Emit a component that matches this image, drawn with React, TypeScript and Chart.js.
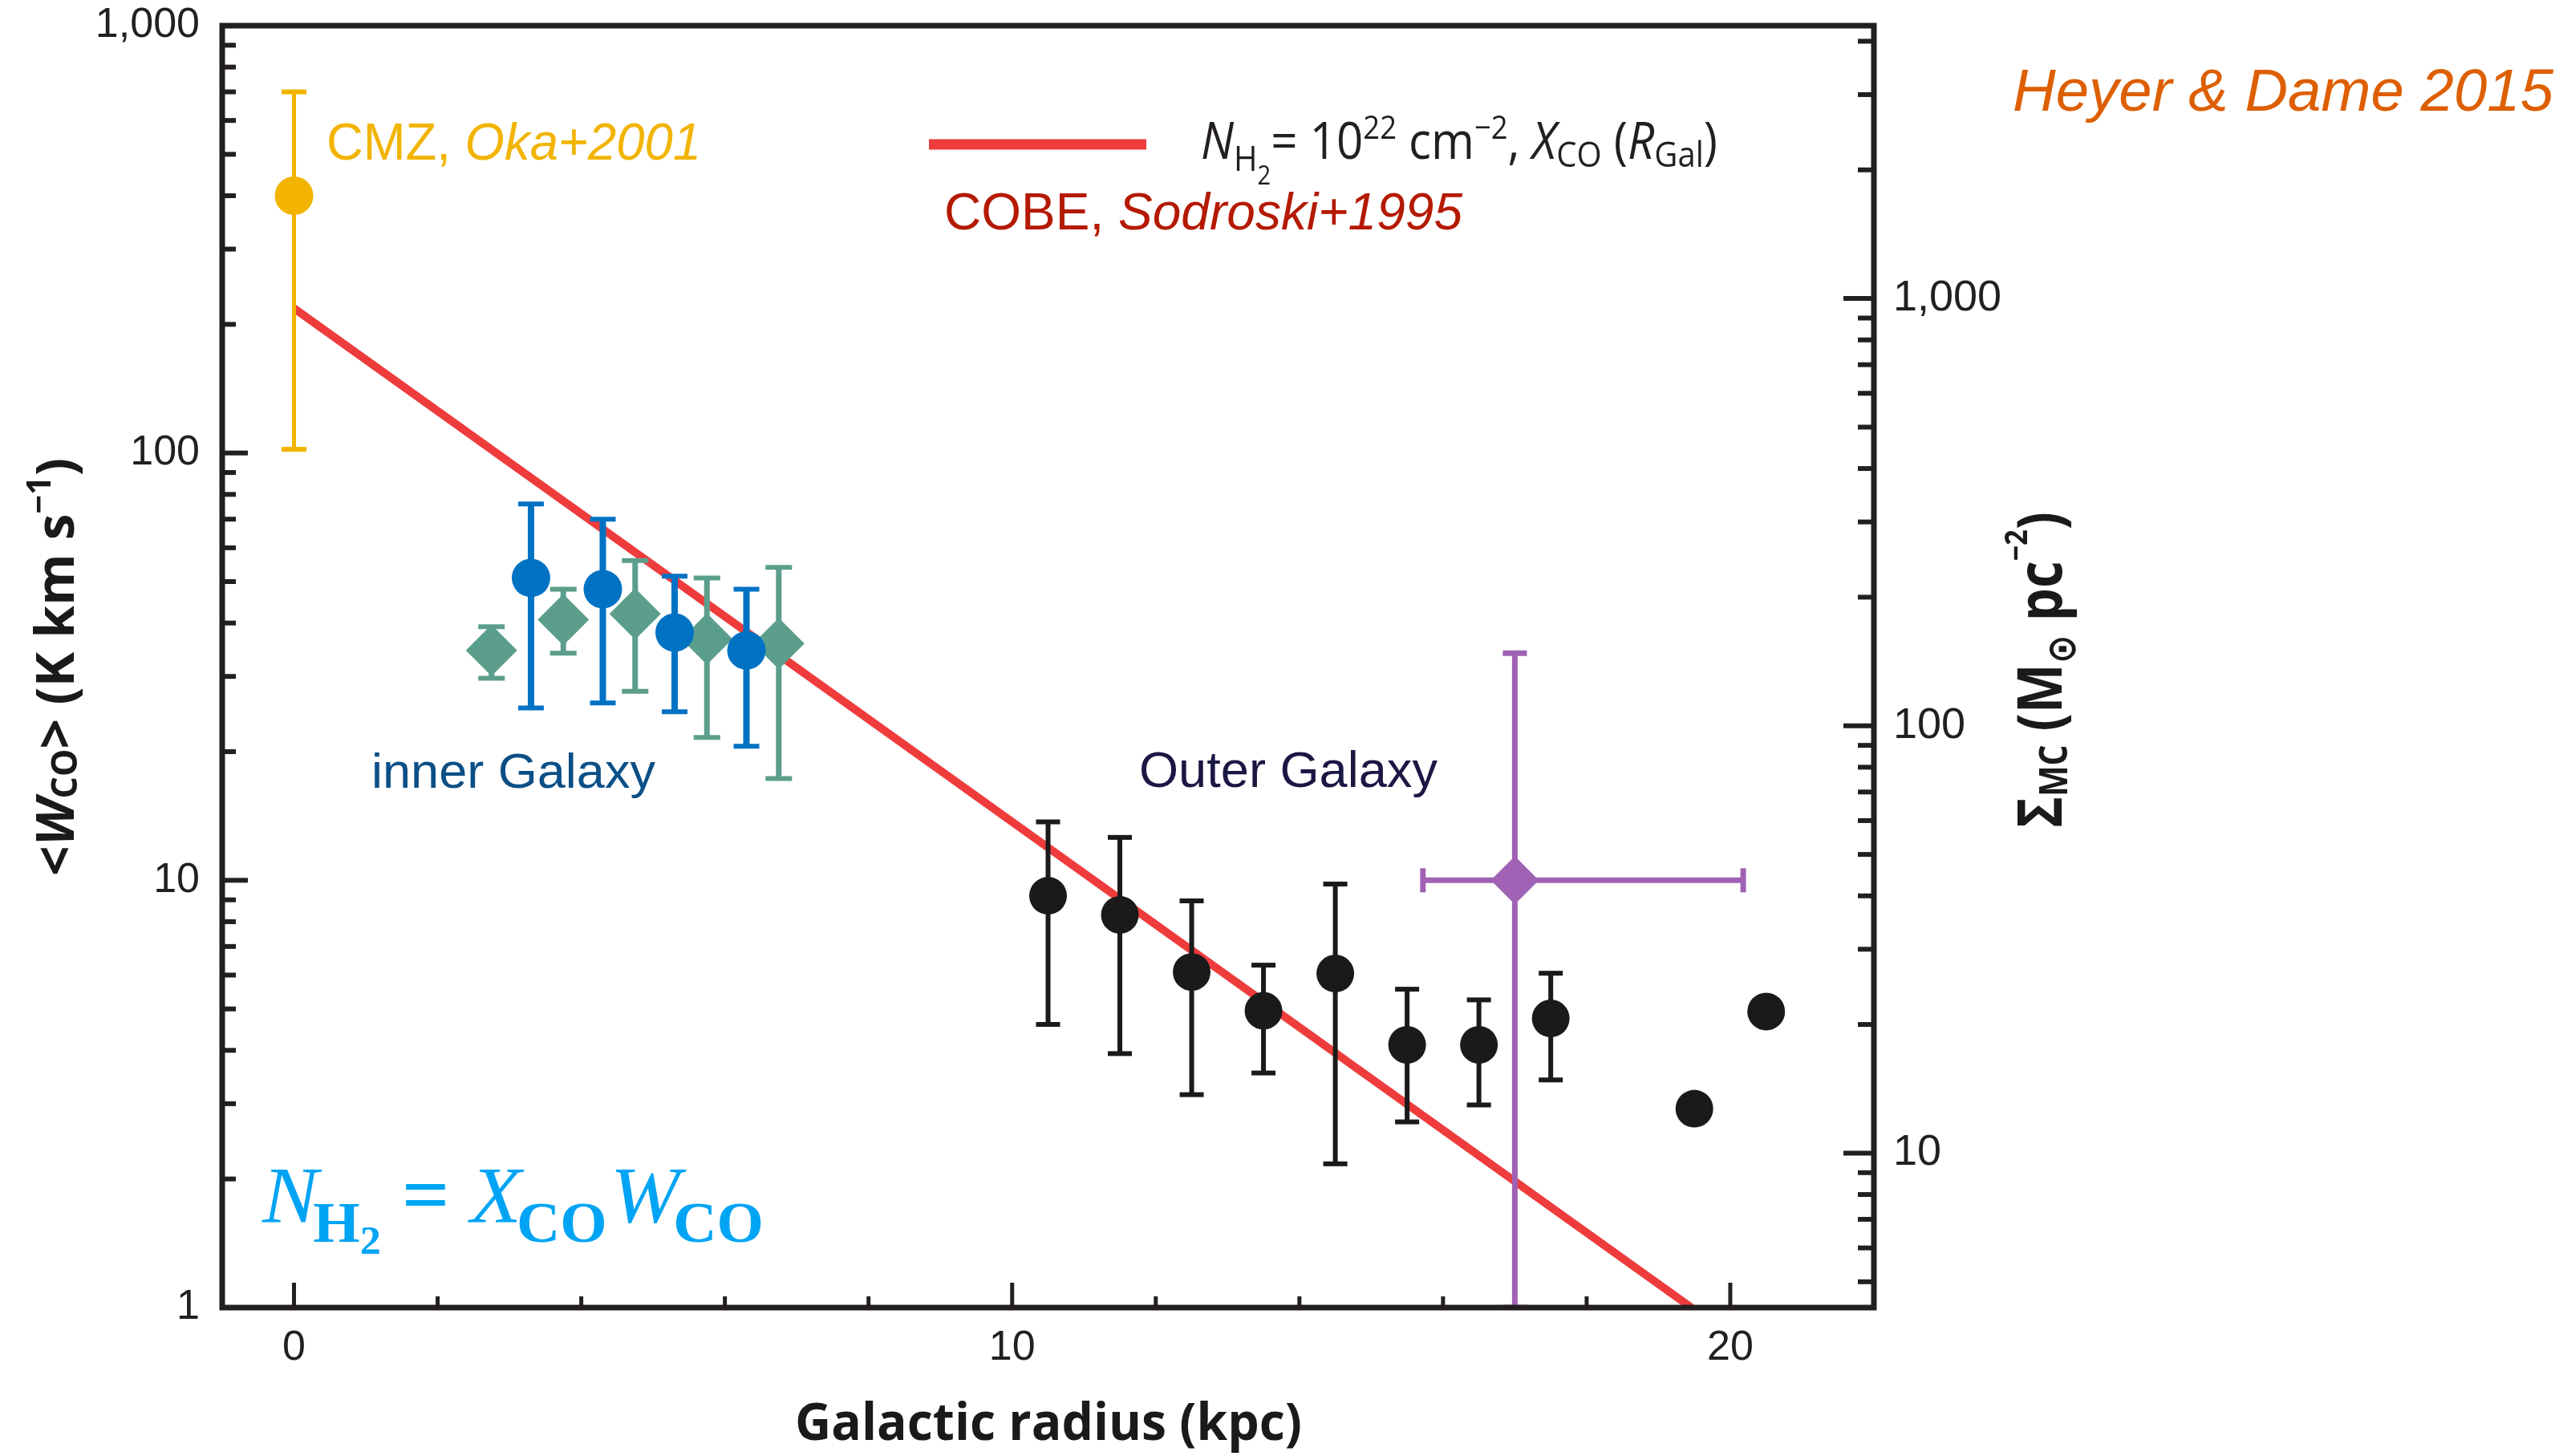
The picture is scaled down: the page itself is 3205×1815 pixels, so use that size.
import React, { useEffect, useRef } from 'react';
import { Chart, registerables } from 'chart.js';

Chart.register(...registerables);

const W = 3205;
const H = 1815;

// ---------- data ----------
const xTickValues = [0, 10, 20];
const xMinorTickValues = [2, 4, 6, 8, 12, 14, 16, 18];
const yTickValues = [1, 10, 100, 1000];
const y2TickValues = [10, 100, 1000];
const y2MinorTickValues = [5, 6, 7, 8, 9, 20, 30, 40, 50, 60, 70, 80, 90, 200, 300, 400, 500, 600, 700, 800, 900, 2000, 3000, 4000];

// CMZ (Oka+2001)
const cmzR = [0];
const cmzW = [400];
const cmzLo = [102];
const cmzHi = [700];

// inner Galaxy, blue circles
const blueR = [3.3, 4.3, 5.3, 6.3];
const blueW = [51, 48, 38, 34.5];
const blueLo = [25.3, 26, 24.8, 20.6];
const blueHi = [76, 70, 51.5, 48];

// inner Galaxy, teal diamonds
const tealR = [2.75, 3.75, 4.75, 5.75, 6.75];
const tealW = [34.5, 40.7, 42, 36.7, 35.8];
const tealLo = [29.7, 34, 27.7, 21.6, 17.3];
const tealHi = [39.2, 48, 56, 51, 54];

// outer Galaxy, black circles
const outerR = [10.5, 11.5, 12.5, 13.5, 14.5, 15.5, 16.5, 17.5, 19.5, 20.5];
const outerW = [9.2, 8.3, 6.1, 4.95, 6.05, 4.12, 4.12, 4.75, 2.92, 4.93];
const outerLo: (number | null)[] = [4.6, 3.93, 3.15, 3.54, 2.17, 2.72, 2.98, 3.41, null, null];
const outerHi: (number | null)[] = [13.7, 12.6, 8.95, 6.33, 9.8, 5.56, 5.25, 6.06, null, null];

// purple point
const purpleR = [17.0];
const purpleW = [10];
const purpleLo = [1];
const purpleHi = [34];
const purpleRLo = [15.72];
const purpleRHi = [20.18];

// COBE model line
const modelR = [0, 19.46];
const modelW = [218, 1];

// ---------- styles ----------
const C_YELLOW = '#F2B400';
const C_BLUE = '#0072C4';
const C_TEAL = '#5B9E8B';
const C_BLACK = '#1A1A1A';
const C_PURPLE = '#A062B4';
const C_RED = '#EE3C3C';
const C_AXIS = '#231F20';

const HV = '"Liberation Sans", Arial, sans-serif';
const MY = '"Open Sans", "Liberation Sans", sans-serif';
const TM = '"Liberation Serif", "Times New Roman", serif';

type Err = {
  r: number[];
  lo: (number | null)[];
  hi: (number | null)[];
  rlo?: number[];
  rhi?: number[];
  color: string;
  lw: number;
  capW: number;
  capT: number;
};

const ERR: Record<string, Err> = {
  cmz: { r: cmzR, lo: cmzLo, hi: cmzHi, color: C_YELLOW, lw: 5, capW: 31, capT: 6 },
  blue: { r: blueR, lo: blueLo, hi: blueHi, color: C_BLUE, lw: 8, capW: 32, capT: 6 },
  teal: { r: tealR, lo: tealLo, hi: tealHi, color: C_TEAL, lw: 7, capW: 33, capT: 6 },
  outer: { r: outerR, lo: outerLo, hi: outerHi, color: C_BLACK, lw: 6, capW: 30, capT: 6 },
  purple: { r: purpleR, lo: purpleLo, hi: purpleHi, rlo: purpleRLo, rhi: purpleRHi, color: C_PURPLE, lw: 7, capW: 30, capT: 7 },
};

type Seg = { t: string; f: string; dy?: number; dx?: number };

function richText(ctx: CanvasRenderingContext2D, segs: Seg[], x: number, y: number, color: string, width?: number, rot = 0) {
  ctx.save();
  let total = 0;
  for (const s of segs) {
    ctx.font = s.f;
    total += ctx.measureText(s.t).width + (s.dx || 0);
  }
  const sx = width ? width / total : 1;
  ctx.translate(x, y);
  if (rot) ctx.rotate(rot);
  ctx.scale(sx, 1);
  ctx.fillStyle = color;
  ctx.textBaseline = 'alphabetic';
  ctx.textAlign = 'left';
  let cx = 0;
  for (const s of segs) {
    ctx.font = s.f;
    cx += s.dx || 0;
    ctx.fillText(s.t, cx, s.dy || 0);
    cx += ctx.measureText(s.t).width;
  }
  ctx.restore();
}

function seg(ctx: CanvasRenderingContext2D, x1: number, y1: number, x2: number, y2: number) {
  ctx.beginPath();
  ctx.moveTo(x1, y1);
  ctx.lineTo(x2, y2);
  ctx.stroke();
}

const errPlugin = {
  id: 'errbars',
  beforeDatasetDraw(chart: any, args: any) {
    const ds = chart.data.datasets[args.index];
    const eb = ERR[ds.label];
    if (!eb) return;
    const { ctx, chartArea: ca, scales } = chart;
    const xs = scales.x;
    const ys = scales.y;
    ctx.save();
    ctx.beginPath();
    ctx.rect(ca.left, ca.top, ca.right - ca.left, ca.bottom - ca.top);
    ctx.clip();
    ctx.strokeStyle = eb.color;
    ctx.lineCap = 'butt';
    for (let i = 0; i < eb.r.length; i++) {
      const px = xs.getPixelForValue(eb.r[i]);
      const lo = eb.lo[i];
      const hi = eb.hi[i];
      if (lo != null && hi != null) {
        const p1 = ys.getPixelForValue(lo);
        const p2 = ys.getPixelForValue(hi);
        ctx.lineWidth = eb.lw;
        seg(ctx, px, p1, px, p2);
        ctx.lineWidth = eb.capT;
        seg(ctx, px - eb.capW / 2, p1, px + eb.capW / 2, p1);
        seg(ctx, px - eb.capW / 2, p2, px + eb.capW / 2, p2);
      }
      if (eb.rlo && eb.rhi) {
        const py = ys.getPixelForValue(ds.data[i].y);
        const q1 = xs.getPixelForValue(eb.rlo[i]);
        const q2 = xs.getPixelForValue(eb.rhi[i]);
        ctx.lineWidth = eb.lw;
        seg(ctx, q1, py, q2, py);
        ctx.lineWidth = eb.capT;
        seg(ctx, q1, py - eb.capW / 2, q1, py + eb.capW / 2);
        seg(ctx, q2, py - eb.capW / 2, q2, py + eb.capW / 2);
      }
    }
    ctx.restore();
  },
};

const decorPlugin = {
  id: 'decor',
  beforeDraw(chart: any) {
    const ctx = chart.ctx;
    ctx.save();
    ctx.fillStyle = '#ffffff';
    ctx.fillRect(0, 0, chart.width, chart.height);
    ctx.restore();
  },
  afterDraw(chart: any) {
    const { ctx, chartArea: ca, scales } = chart;
    const xs = scales.x;
    const ys = scales.y;
    const y2 = scales.y2;
    ctx.save();
    // ticks (inward)
    ctx.strokeStyle = C_AXIS;
    ctx.lineCap = 'butt';
    ctx.lineWidth = 6;
    for (const v of yTickValues) {
      const p = ys.getPixelForValue(v);
      if (v === 1 || v === 1000) continue;
      seg(ctx, ca.left, p, ca.left + 32, p);
    }
    for (let d = 1; d < 1000; d *= 10) {
      for (let m = 2; m <= 9; m++) {
        const p = ys.getPixelForValue(d * m);
        seg(ctx, ca.left, p, ca.left + 17, p);
      }
    }
    for (const v of y2TickValues) {
      const p = y2.getPixelForValue(v);
      seg(ctx, ca.right, p, ca.right - 38, p);
    }
    for (const v of y2MinorTickValues) {
      const p = y2.getPixelForValue(v);
      seg(ctx, ca.right, p, ca.right - 20, p);
    }
    ctx.lineWidth = 5;
    for (const v of xTickValues) {
      const p = xs.getPixelForValue(v);
      seg(ctx, p, ca.bottom, p, ca.bottom - 31);
    }
    for (const v of xMinorTickValues) {
      const p = xs.getPixelForValue(v);
      seg(ctx, p, ca.bottom, p, ca.bottom - 14);
    }
    // frame
    ctx.lineWidth = 7;
    ctx.lineJoin = 'miter';
    ctx.strokeRect(ca.left, ca.top, ca.right - ca.left, ca.bottom - ca.top);

    // legend line
    ctx.strokeStyle = C_RED;
    ctx.lineWidth = 13;
    seg(ctx, 1158, 180, 1429, 180);
    ctx.restore();

    // legend formula
    richText(ctx, [
      { t: 'N', f: `italic 64px ${MY}` },
      { t: 'H', f: `44px ${MY}`, dy: 15 },
      { t: '2', f: `32px ${MY}`, dy: 32 },
      { t: '= 10', f: `64px ${MY}` },
      { t: '22', f: `40px ${MY}`, dy: -25 },
      { t: ' cm', f: `64px ${MY}` },
      { t: '\u22122', f: `40px ${MY}`, dy: -25 },
      { t: ', ', f: `64px ${MY}` },
      { t: 'X', f: `italic 64px ${MY}` },
      { t: 'CO', f: `44px ${MY}`, dy: 10 },
      { t: ' (', f: `64px ${MY}` },
      { t: 'R', f: `italic 64px ${MY}` },
      { t: 'Gal', f: `44px ${MY}`, dy: 10 },
      { t: ')', f: `64px ${MY}` },
    ], 1497, 198, C_AXIS, 644);

    richText(ctx, [
      { t: 'COBE, ', f: `64px ${HV}` },
      { t: 'Sodroski+1995', f: `italic 64px ${HV}` },
    ], 1177, 286, '#B41A00', 646);

    richText(ctx, [
      { t: 'CMZ, ', f: `64px ${HV}` },
      { t: 'Oka+2001', f: `italic 64px ${HV}` },
    ], 407, 199, C_YELLOW, 467);

    richText(ctx, [{ t: 'Heyer & Dame 2015', f: `italic 74px ${HV}` }], 2509, 138, '#DD5F00', 674);
    richText(ctx, [{ t: 'inner Galaxy', f: `62px ${HV}` }], 463, 982, '#0B4F86', 354);
    richText(ctx, [{ t: 'Outer Galaxy', f: `63px ${HV}` }], 1420, 981, '#1B1744', 372);

    // N_H2 = X_CO W_CO
    richText(ctx, [
      { t: 'N', f: `italic 100px ${TM}` },
      { t: 'H', f: `bold 72px ${TM}`, dy: 25, dx: -6 },
      { t: '2', f: `bold 50px ${TM}`, dy: 40 },
      { t: ' = ', f: `bold 100px ${TM}` },
      { t: 'X', f: `italic 100px ${TM}` },
      { t: 'CO', f: `bold 72px ${TM}`, dy: 25, dx: -6 },
      { t: 'W', f: `italic 100px ${TM}`, dx: 4 },
      { t: 'CO', f: `bold 72px ${TM}`, dy: 25, dx: -8 },
    ], 327, 1523, '#00A4F4', 625);

    // axis titles
    richText(ctx, [
      { t: '<', f: `bold 67px ${MY}` },
      { t: 'W', f: `italic bold 67px ${MY}` },
      { t: 'CO', f: `bold 44px ${MY}`, dy: 4 },
      { t: '>', f: `bold 67px ${MY}` },
      { t: ' (K km s', f: `bold 67px ${MY}` },
      { t: '\u22121', f: `bold 42px ${MY}`, dy: -29 },
      { t: ')', f: `bold 67px ${MY}` },
    ], 92, 1092, C_BLACK, 521, -Math.PI / 2);

    richText(ctx, [
      { t: '\u03A3', f: `bold 77px ${MY}` },
      { t: 'MC', f: `bold 48px ${MY}`, dy: 7 },
      { t: ' (M', f: `bold 77px ${MY}` },
      { t: '\u2299', f: `bold 50px "DejaVu Sans", ${MY}`, dy: 17 },
      { t: ' pc', f: `bold 77px ${MY}` },
      { t: '\u22122', f: `bold 40px ${MY}`, dy: -43 },
      { t: ')', f: `bold 77px ${MY}` },
    ], 2570, 1032, C_BLACK, 394, -Math.PI / 2);

    richText(ctx, [{ t: 'Galactic radius (kpc)', f: `bold 64px ${MY}` }], 991, 1795, C_BLACK, 632);
  },
};

function fmt(v: number) {
  return v >= 1000 ? v.toLocaleString('en-US') : String(v);
}

export default function App() {
  const ref = useRef<HTMLCanvasElement | null>(null);

  useEffect(() => {
    document.body.style.margin = '0';
    const canvas = ref.current;
    if (!canvas) return;
    const pts = (xs: number[], ys: number[]) => xs.map((x, i) => ({ x, y: ys[i] }));
    const chart = new Chart(canvas, {
      type: 'scatter',
      data: {
        datasets: [
          { label: 'cmz', data: pts(cmzR, cmzW), pointStyle: 'circle', pointRadius: 24, backgroundColor: C_YELLOW, borderWidth: 0 },
          { label: 'blue', data: pts(blueR, blueW), pointStyle: 'circle', pointRadius: 24, backgroundColor: C_BLUE, borderWidth: 0 },
          { label: 'teal', data: pts(tealR, tealW), pointStyle: 'rectRot', pointRadius: 32, backgroundColor: C_TEAL, borderWidth: 0 },
          { label: 'outer', data: pts(outerR, outerW), pointStyle: 'circle', pointRadius: 23.5, backgroundColor: C_BLACK, borderWidth: 0 },
          { label: 'purple', data: pts(purpleR, purpleW), pointStyle: 'rectRot', pointRadius: 30, backgroundColor: C_PURPLE, borderWidth: 0 },
          { label: 'model', data: pts(modelR, modelW), showLine: true, pointRadius: 0, borderColor: C_RED, borderWidth: 10, backgroundColor: C_RED },
        ] as any,
      },
      options: {
        responsive: false,
        animation: false,
        devicePixelRatio: 1,
        layout: { padding: { top: 32, left: 0, right: 0, bottom: 0 } },
        plugins: { legend: { display: false }, tooltip: { enabled: false }, title: { display: false } },
        events: [],
        scales: {
          x: {
            type: 'linear',
            min: -1,
            max: 22,
            afterFit: (s: any) => { s.height = H - 1630; s.paddingLeft = 0; s.paddingRight = 0; },
            afterBuildTicks: (s: any) => { s.ticks = xTickValues.map((v) => ({ value: v })); },
            grid: { display: false, drawTicks: false },
            border: { display: false },
            ticks: { autoSkip: false, maxRotation: 0, padding: 19, color: C_AXIS, font: { family: HV, size: 52 }, callback: (v: any) => String(v) },
          },
          y: {
            type: 'logarithmic',
            position: 'left',
            min: 1,
            max: 1000,
            afterFit: (s: any) => { s.width = 277; s.paddingTop = 0; s.paddingBottom = 0; },
            afterBuildTicks: (s: any) => { s.ticks = yTickValues.map((v) => ({ value: v })); },
            grid: { display: false, drawTicks: false },
            border: { display: false },
            ticks: { autoSkip: false, padding: 28, color: C_AXIS, font: { family: HV, size: 52 }, callback: (v: any) => fmt(Number(v)) },
          },
          y2: {
            type: 'logarithmic',
            position: 'right',
            min: 4.35,
            max: 4350,
            afterFit: (s: any) => { s.width = W - 2336; s.paddingTop = 0; s.paddingBottom = 0; },
            afterBuildTicks: (s: any) => { s.ticks = y2TickValues.map((v) => ({ value: v })); },
            grid: { display: false, drawTicks: false },
            border: { display: false },
            ticks: { autoSkip: false, padding: 24, color: C_AXIS, font: { family: HV, size: 54 }, callback: (v: any) => fmt(Number(v)) },
          },
        },
      } as any,
      plugins: [errPlugin, decorPlugin],
    });
    return () => chart.destroy();
  }, []);

  return (
    <div style={{ position: 'absolute', left: 0, top: 0, width: W, height: H }}>
      <canvas ref={ref} width={W} height={H} style={{ width: W, height: H, display: 'block' }} />
    </div>
  );
}
